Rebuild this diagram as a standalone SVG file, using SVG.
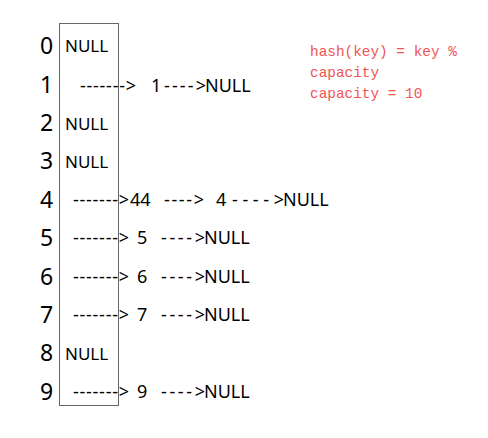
<svg xmlns="http://www.w3.org/2000/svg" width="488" height="438" viewBox="0 0 488 438">
<style>
.idx{font-family:"Noto Sans","Open Sans",sans-serif;font-size:23px;fill:#000}
.nul{font-family:"Noto Sans","Open Sans",sans-serif;font-size:17px;fill:#000}
.t{font-family:"Noto Sans","Open Sans",sans-serif;font-size:18px;fill:#000}
.red{font-family:"Liberation Mono","DejaVu Sans Mono",monospace;font-size:14.4px;fill:#f05555}
.box{fill:none;stroke:#666;stroke-width:1}
</style>
<rect width="488" height="438" fill="#fff"/>
<g id="table">
<rect class="box" x="59.5" y="23.5" width="59" height="382"/>
</g>
<g id="indices">
<text class="idx" x="40" y="54">0</text>
<text class="idx" x="40" y="93">1</text>
<text class="idx" x="40" y="131">2</text>
<text class="idx" x="40" y="169">3</text>
<text class="idx" x="40" y="208">4</text>
<text class="idx" x="40" y="246">5</text>
<text class="idx" x="40" y="285">6</text>
<text class="idx" x="40" y="323">7</text>
<text class="idx" x="40" y="361">8</text>
<text class="idx" x="40" y="400">9</text>
</g>
<g id="slot0"><text class="nul" x="65" y="52">NULL</text></g>
<g id="slot2"><text class="nul" x="65" y="130">NULL</text></g>
<g id="slot3"><text class="nul" x="65" y="168">NULL</text></g>
<g id="slot8"><text class="nul" x="65" y="360">NULL</text></g>
<g id="connectors">
<text class="t" x="80" y="92" textLength="56">-------&gt;</text>
<text class="t" x="73" y="206" textLength="56">-------&gt;</text>
<text class="t" x="73" y="244" textLength="56">-------&gt;</text>
<text class="t" x="73" y="283" textLength="56">-------&gt;</text>
<text class="t" x="73" y="321" textLength="56">-------&gt;</text>
<text class="t" x="73" y="398" textLength="56">-------&gt;</text>
</g>
<g id="row1">
<text class="t" x="151" y="92">1</text>
<text class="t" x="164" y="92" textLength="42">----&gt;</text>
<text class="t" x="205" y="92">NULL</text>
</g>
<g id="row4">
<text class="t" x="130" y="206">44</text>
<text class="t" x="164" y="206" textLength="40">----&gt;</text>
<text class="t" x="216" y="206">4</text>
<text class="t" x="232" y="206" textLength="52">----&gt;</text>
<text class="t" x="283" y="206">NULL</text>
</g>
<g id="row5">
<text class="t" x="137" y="244">5</text>
<text class="t" x="161" y="244" textLength="44">----&gt;</text>
<text class="t" x="204" y="244">NULL</text>
</g>
<g id="row6">
<text class="t" x="137" y="283">6</text>
<text class="t" x="161" y="283" textLength="44">----&gt;</text>
<text class="t" x="204" y="283">NULL</text>
</g>
<g id="row7">
<text class="t" x="137" y="321">7</text>
<text class="t" x="161" y="321" textLength="44">----&gt;</text>
<text class="t" x="204" y="321">NULL</text>
</g>
<g id="row9">
<text class="t" x="137" y="398">9</text>
<text class="t" x="161" y="398" textLength="44">----&gt;</text>
<text class="t" x="204" y="398">NULL</text>
</g>
<g id="note">
<text class="red" x="310" y="56">hash(key) = key %</text>
<text class="red" x="310" y="77">capacity</text>
<text class="red" x="310" y="98">capacity = 10</text>
</g>
</svg>
